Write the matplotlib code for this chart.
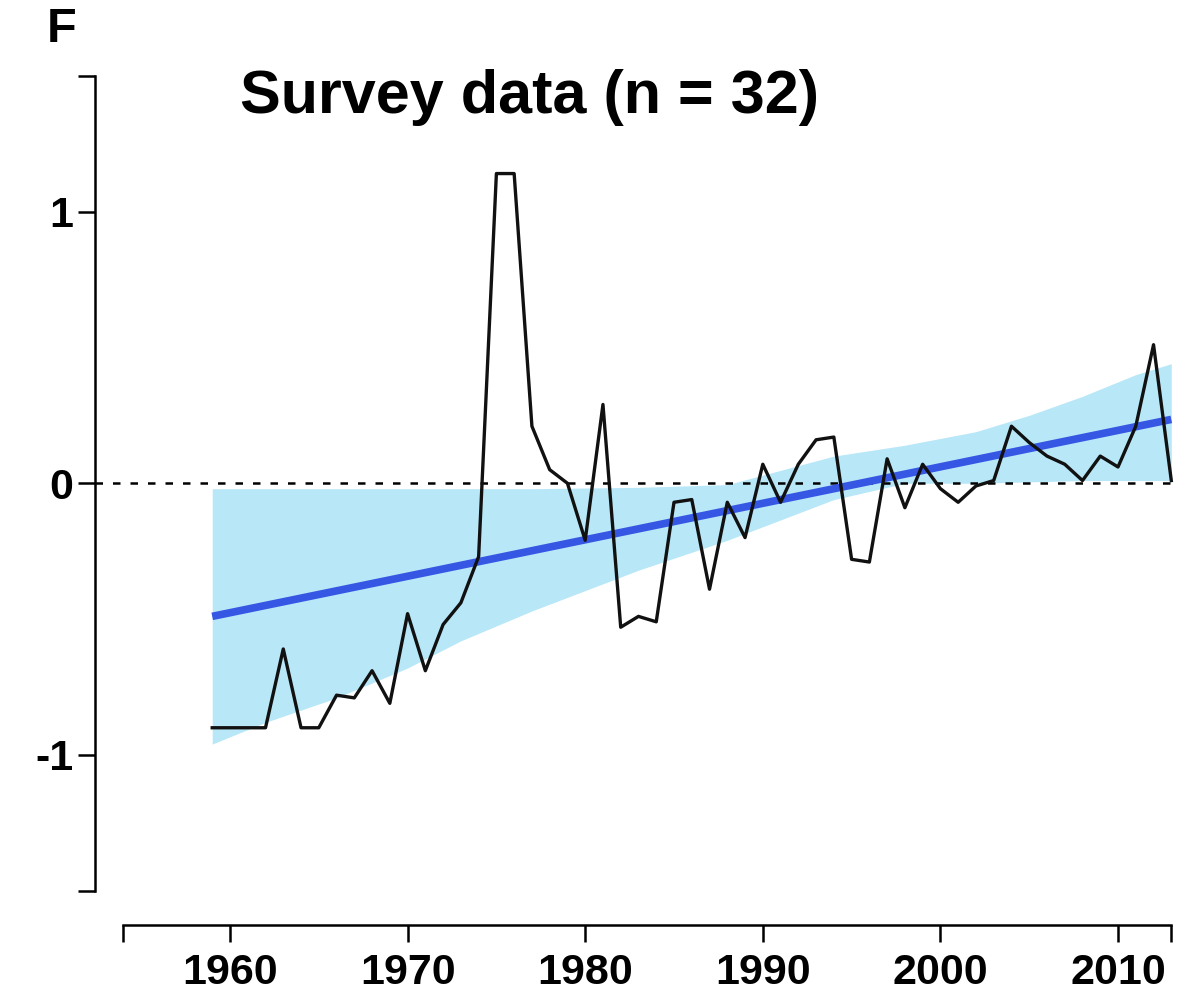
import numpy as np
import matplotlib
matplotlib.use("Agg")
import matplotlib.pyplot as plt

plt.rcParams["font.family"] = ["Liberation Sans", "DejaVu Sans"]

# ------------------------------------------------------------ data
years = list(range(1959, 2014))
survey = [-0.90, -0.90, -0.90, -0.90, -0.61, -0.90, -0.90, -0.78, -0.79, -0.69,
          -0.81, -0.48, -0.69, -0.52, -0.44, -0.27, 1.14, 1.14, 0.21, 0.05,
          0.00, -0.21, 0.29, -0.53, -0.49, -0.51, -0.07, -0.06, -0.39, -0.07,
          -0.20, 0.07, -0.07, 0.07, 0.16, 0.17, -0.28, -0.29, 0.09, -0.09,
          0.07, -0.02, -0.07, -0.01, 0.01, 0.21, 0.15, 0.10, 0.07, 0.01,
          0.10, 0.06, 0.21, 0.51, 0.01]

trend_years = [1959, 2013]
trend_vals = [-0.49, 0.235]

band_years = [1959, 1962, 1966, 1970, 1973, 1977, 1983, 1988, 1990, 1994,
              1996, 1998, 2002, 2005, 2008, 2011, 2013]
band_low = [-0.96, -0.88, -0.79, -0.68, -0.58, -0.47, -0.32, -0.21, -0.16, -0.06,
            -0.03, 0.00, 0.00, 0.005, 0.01, 0.01, 0.01]
band_high = [-0.02, -0.02, -0.02, -0.02, -0.02, -0.02, -0.015, -0.005, 0.03, 0.10,
             0.12, 0.14, 0.19, 0.25, 0.32, 0.40, 0.44]

x_ticks = [1954, 1960, 1970, 1980, 1990, 2000, 2010, 2013]
x_labels = ["", "1960", "1970", "1980", "1990", "2000", "2010", ""]
y_ticks = [-1.5, -1, 0, 1, 1.5]
y_labels = ["", "-1", "0", "1", ""]

# ------------------------------------------------------------ figure
W, H = 1189, 1005
fig = plt.figure(figsize=(W / 100, H / 100), dpi=100)
ax = fig.add_axes([95 / W, 1 - 900 / H, (1180 - 95) / W, (900 - 60) / H])

ax.fill_between(band_years, band_low, band_high, color="#b8e7f8", lw=0, zorder=1)
ax.plot([1952.4, 2013], [0, 0], color="black", lw=1.8, ls=(0, (3, 4)), zorder=2)
ax.plot(trend_years, trend_vals, color="#3657e3", lw=5.5, solid_capstyle="butt", zorder=3)
ax.plot(years, survey, color="#111111", lw=2.4, zorder=4)

ax.set_xlim(1952.40, 2013.49)
ax.set_ylim(-1.534, 1.558)

for s in ("top", "right"):
    ax.spines[s].set_visible(False)
ax.spines["left"].set_bounds(-1.5, 1.5)
ax.spines["left"].set_linewidth(1.8)
ax.spines["bottom"].set_position(("outward", 18))
ax.spines["bottom"].set_bounds(1954, 2013)
ax.spines["bottom"].set_linewidth(1.8)

ax.set_xticks(x_ticks, x_labels)
ax.set_yticks(y_ticks, y_labels)
ax.tick_params(axis="both", direction="out", length=12.5, width=1.8,
               labelsize=31)
ax.tick_params(axis="x", pad=8)
ax.tick_params(axis="y", pad=3)
for lab in ax.get_xticklabels() + ax.get_yticklabels():
    lab.set_fontweight("bold")

fig.text(530 / W, 1 - 97 / H, "Survey data (n = 32)", ha="center", va="center",
         fontsize=44, fontweight="bold")
fig.text(62 / W, 1 - 30 / H, "F", ha="center", va="center",
         fontsize=35, fontweight="bold")

fig.savefig("out.png", dpi=100)
